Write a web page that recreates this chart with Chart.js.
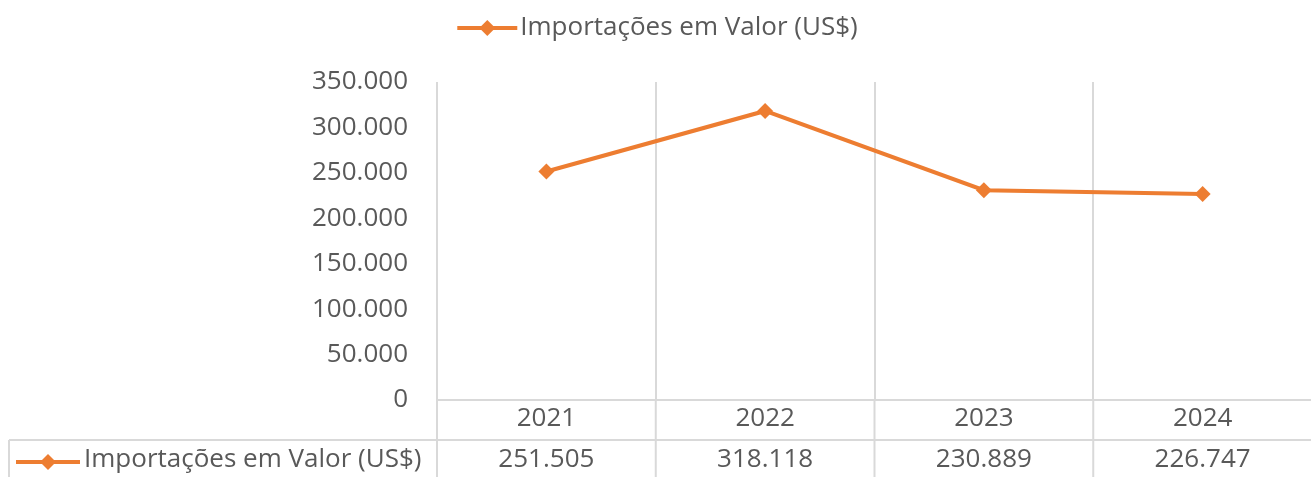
<!DOCTYPE html>
<html>
<head>
<meta charset="utf-8">
<script src="https://cdn.jsdelivr.net/npm/chart.js@4.4.1/dist/chart.umd.min.js"></script>
<style>
  html, body { margin: 0; padding: 0; background: #fff; overflow: hidden; }
  #wrap { width: 1320px; height: 477px; position: relative; }
</style>
</head>
<body>
<div id="wrap"><canvas id="importChart"></canvas></div>
<script>
// dados
const anos = ['2021', '2022', '2023', '2024'];
const importacoes = [251505, 318118, 230889, 226747];
const serieNome = 'Importações em Valor (US$)';
const yMin = 0, yMax = 350000, yPasso = 50000;

const laranja = '#ED7D31';
const cinzaTexto = '#595959';
const cinzaGrade = '#D9D9D9';
const fonte = '"Open Sans", sans-serif';
const tamFonte = 26;

// 251505 -> "251.505"
function fmt(v) {
    return String(v).replace(/\B(?=(\d{3})+(?!\d))/g, '.');
}

function desenhaChave(ctx, x1, x2, y) {
    ctx.save();
    ctx.strokeStyle = laranja;
    ctx.lineWidth = 4;
    ctx.beginPath();
    ctx.moveTo(x1, y);
    ctx.lineTo(x2, y);
    ctx.stroke();
    const cx = (x1 + x2) / 2, r = 8;
    ctx.fillStyle = laranja;
    ctx.beginPath();
    ctx.moveTo(cx, y - r);
    ctx.lineTo(cx + r, y);
    ctx.lineTo(cx, y + r);
    ctx.lineTo(cx - r, y);
    ctx.closePath();
    ctx.fill();
    ctx.restore();
}

// legenda no topo + tabela de dados embaixo
const tabelaPlugin = {
    id: 'tabelaDados',
    afterDraw(chart) {
        const ctx = chart.ctx;
        const area = chart.chartArea;
        const xs = chart.scales.x;
        const meio = xs.getPixelForValue(1) - xs.getPixelForValue(0);

        ctx.save();
        ctx.font = tamFonte + 'px ' + fonte;
        ctx.fillStyle = cinzaTexto;
        ctx.textBaseline = 'middle';

        // legenda
        const larg = ctx.measureText(serieNome).width;
        const inicio = 658 - (larg + 64) / 2;
        desenhaChave(ctx, inicio, inicio + 60, 28);
        ctx.textAlign = 'left';
        ctx.fillText(serieNome, inicio + 63, 28);

        // linhas da tabela
        const yLinha = 440;
        ctx.strokeStyle = cinzaGrade;
        ctx.lineWidth = 2;
        ctx.beginPath();
        ctx.moveTo(9, yLinha);
        ctx.lineTo(chart.width, yLinha);
        ctx.moveTo(9, yLinha);
        ctx.lineTo(9, chart.height);
        for (let i = 0; i <= anos.length; i++) {
            const bx = xs.getPixelForValue(i) - meio / 2;
            ctx.moveTo(bx, area.bottom);
            ctx.lineTo(bx, chart.height);
        }
        ctx.stroke();

        // anos e valores
        ctx.textAlign = 'center';
        anos.forEach((a, i) => {
            const cx = xs.getPixelForValue(i);
            ctx.fillText(a, cx, 419);
            ctx.fillText(fmt(importacoes[i]), cx, 460);
        });

        // chave da serie na tabela
        desenhaChave(ctx, 16, 80, 462);
        ctx.textAlign = 'left';
        ctx.fillText(serieNome, 84, 460);
        ctx.restore();
    }
};

const ctx = document.getElementById('importChart').getContext('2d');

const chart = new Chart(ctx, {
    type: 'line',
    data: {
        labels: anos,
        datasets: [{
            label: serieNome,
            data: importacoes,
            borderColor: laranja,
            backgroundColor: laranja,
            borderWidth: 4,
            pointStyle: 'rectRot',
            pointRadius: 8,
            pointBorderWidth: 0,
            tension: 0
        }]
    },
    options: {
        responsive: true,
        maintainAspectRatio: false,
        animation: false,
        layout: { padding: { top: 82, bottom: 77, left: 0, right: 2 } },
        plugins: {
            legend: { display: false },
            tooltip: { enabled: false }
        },
        scales: {
            x: {
                offset: true,
                grid: { offset: true, color: cinzaGrade, lineWidth: 2, drawTicks: false },
                border: { display: true, color: cinzaGrade, width: 2 },
                ticks: { display: false }
            },
            y: {
                min: yMin,
                max: yMax,
                grid: { display: false, drawTicks: false },
                border: { display: false },
                ticks: {
                    stepSize: yPasso,
                    padding: 29,
                    color: cinzaTexto,
                    font: { family: fonte, size: tamFonte },
                    callback: v => fmt(v)
                },
                afterFit(scale) { scale.width = 437; }
            }
        }
    },
    plugins: [tabelaPlugin]
});
</script>
</body>
</html>
